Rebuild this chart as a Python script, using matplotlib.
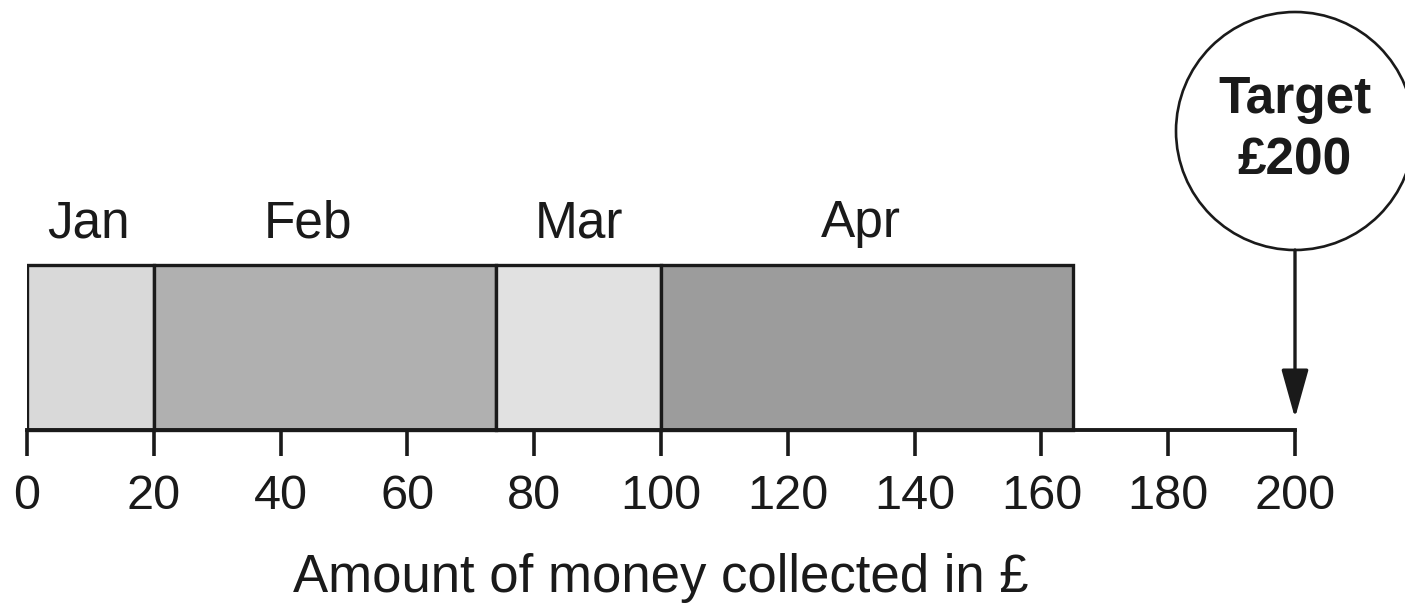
import matplotlib.pyplot as plt
from matplotlib.patches import Ellipse
import numpy as np

# datos
months = ['Jan', 'Feb', 'Mar', 'Apr']
amounts = [20, 54, 26, 65]
target = 200
ticks = list(range(0, 201, 20))

colors = ['#d9d9d9', '#b0b0b0', '#e1e1e1', '#9c9c9c']
label_shift = [-0.3, -2.7, 0, -1.0]  # ajuste fino de las etiquetas de mes
ink = '#1a1a1a'
plt.rcParams['font.family'] = ['Liberation Sans', 'DejaVu Sans']

fig = plt.figure(figsize=(14.05, 6.07), dpi=100)
# eje x de 0 a 200, eje y en pixeles (de arriba a abajo)
ax = fig.add_axes([27 / 1405, 0, 1268 / 1405, 1])
ax.set_xlim(0, 200)
ax.set_ylim(607, 0)

lefts = np.concatenate([[0], np.cumsum(amounts)[:-1]])
ax.barh(347.5, amounts, left=lefts, height=165, color=colors,
        edgecolor=ink, linewidth=2.4, zorder=3)

for m, l, a, d in zip(months, lefts, amounts, label_shift):
    ax.text(l + a / 2 + d, 224, m, ha='center', va='center', fontsize=37, color=ink)

# eje
for s in ['top', 'left', 'right']:
    ax.spines[s].set_visible(False)
ax.spines['bottom'].set_position(('data', 430))
ax.spines['bottom'].set_bounds(0, 200)
ax.spines['bottom'].set_linewidth(2.8)
ax.spines['bottom'].set_color(ink)
ax.spines['bottom'].set_zorder(4)
ax.set_yticks([])
ax.set_xticks(ticks)
ax.tick_params(axis='x', direction='out', length=19, width=2.6, color=ink,
               labelsize=35, labelcolor=ink, pad=13)
ax.set_xlabel('Amount of money collected in £', fontsize=38, color=ink, va='center')
ax.xaxis.set_label_coords(0.5, 1 - 578 / 607)

# objetivo
px_per_unit = 1268 / 200
circ = Ellipse((target, 131), width=238 / px_per_unit, height=238,
               facecolor='white', edgecolor=ink, linewidth=1.9, clip_on=False)
ax.add_patch(circ)
ax.text(target, 99, 'Target', ha='center', va='center', fontsize=37,
        fontweight='bold', color=ink)
ax.text(target, 161, '£200', ha='center', va='center', fontsize=37,
        fontweight='bold', color=ink)
ax.annotate('', xy=(target, 418), xytext=(target, 250),
            arrowprops=dict(arrowstyle='-|>,head_length=1.5,head_width=0.42',
                            mutation_scale=20, lw=2.4, color=ink,
                            shrinkA=0, shrinkB=0))

plt.savefig('out.png', dpi=100)
